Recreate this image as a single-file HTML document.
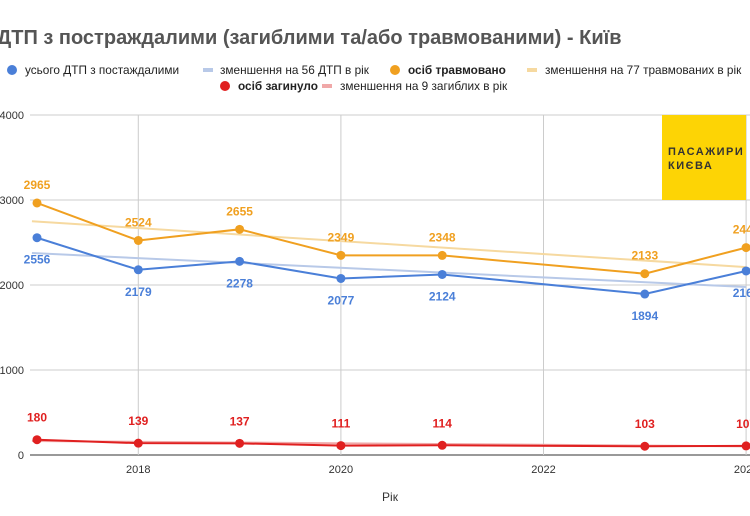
<!DOCTYPE html>
<html><head><meta charset="utf-8"><style>
body{margin:0;background:#fff;}
svg{display:block;font-family:"Liberation Sans",sans-serif;}
</style></head><body>
<svg width="750" height="516" viewBox="0 0 750 516">
<text x="-3" y="44" font-size="20" font-weight="bold" fill="#555">ДТП з постраждалими (загиблими та/або травмованими) - Київ</text>
<g font-size="11.8" fill="#222">
 <g><circle cx="12" cy="70" r="5" fill="#4a7fd8"/><text x="25" y="74">усього ДТП з постаждалими</text></g>
 <g><rect x="203" y="68" width="10" height="4" fill="#b8c9e8"/><text x="220" y="74">зменшення на 56 ДТП в рік</text></g>
 <g><circle cx="395" cy="70" r="5" fill="#f0a020"/><text x="408" y="74" font-weight="bold">осіб травмовано</text></g>
 <g><rect x="527" y="68" width="10" height="4" fill="#f6d9a0"/><text x="545" y="74">зменшення на 77 травмованих в рік</text></g>
 <g><circle cx="225" cy="86" r="5" fill="#e02020"/><text x="238" y="90" font-weight="bold">осіб загинуло</text></g>
 <g><rect x="322" y="84" width="10" height="4" fill="#f0a8a8"/><text x="340" y="90">зменшення на 9 загиблих в рік</text></g>
</g>
<g id="grid"></g>
<rect x="662" y="115" width="84" height="85" fill="#fdd405"/>
<text x="668" y="155" font-size="11" font-weight="bold" fill="#333" letter-spacing="1.5">ПАСАЖИРИ</text>
<text x="668" y="169" font-size="11" font-weight="bold" fill="#333" letter-spacing="1.5">КИЄВА</text>
<g id="marks"></g>
<text x="390" y="501" font-size="12" fill="#333" text-anchor="middle">Рік</text>
</svg>
<script>
const years=[2017,2018,2019,2020,2021,2023,2024];
const total=[2556,2179,2278,2077,2124,1894,2165];
const injured=[2965,2524,2655,2349,2348,2133,2440];
const killed=[180,139,137,111,114,103,107];
const totalLabels=["2556","2179","2278","2077","2124","1894","2165"];
const injuredLabels=["2965","2524","2655","2349","2348","2133","2440"];
const killedLabels=["180","139","137","111","114","103","107"];
const trendTotal=[2376,1976];
const trendInjured=[2750,2211];
const trendKilled=[165,102];
const trendYears=[2016.95,2024];
const yTicks=[0,1000,2000,3000,4000];
const xTicks=[2018,2020,2022,2024];
const NS="http://www.w3.org/2000/svg";
const X=y=>37+(y-2017)*101.3;
const Y=v=>455-v*0.085;
function mk(tag,attrs,parent){const e=document.createElementNS(NS,tag);for(const k in attrs)e.setAttribute(k,attrs[k]);parent.appendChild(e);return e;}
const grid=document.getElementById('grid'),marks=document.getElementById('marks');
yTicks.forEach(t=>{
 const l=mk('line',{x1:30,x2:750,y1:Y(t),y2:Y(t),stroke:t===0?'#333':'#ccc','stroke-width':1},grid);
 
 
 const tx=mk('text',{x:24,y:Y(t)+4,'font-size':11,fill:'#333','text-anchor':'end'},grid);tx.textContent=t;
 
 
});
xTicks.forEach(t=>{
 const l=mk('line',{x1:X(t),x2:X(t),y1:115,y2:455,stroke:'#ccc','stroke-width':1},grid);
 
 
 const tx=mk('text',{x:X(t),y:473,'font-size':11,fill:'#333','text-anchor':'middle'},grid);tx.textContent=t;
 
 
});
function trend(vals,color,name){
 const l=mk('line',{x1:X(trendYears[0]),y1:Y(vals[0]),x2:X(trendYears[1]),y2:Y(vals[1]),stroke:color,'stroke-width':2},marks);
 
 
}
trend(trendTotal,'#b8c9e8','trend-total');
trend(trendInjured,'#f6d9a0','trend-injured');
trend(trendKilled,'#f0a8a8','trend-killed');
function series(vals,labels,color,name,dy){
 const p=mk('polyline',{points:vals.map((v,i)=>X(years[i])+','+Y(v)).join(' '),fill:'none',stroke:color,'stroke-width':2},marks);
 
 
 vals.forEach((v,i)=>{
  const c=mk('circle',{cx:X(years[i]),cy:Y(v),r:4.5,fill:color},marks);
  
  
  const t=mk('text',{x:X(years[i]),y:Y(v)+dy,'font-size':12,'font-weight':'bold',fill:color,'text-anchor':'middle'},marks);
  t.textContent=labels[i];
  
  
 });
}
series(total,totalLabels,'#4a7fd8','total',26);
series(injured,injuredLabels,'#f0a020','injured',-14);
series(killed,killedLabels,'#e02020','killed',-18);
</script>
</body></html>
